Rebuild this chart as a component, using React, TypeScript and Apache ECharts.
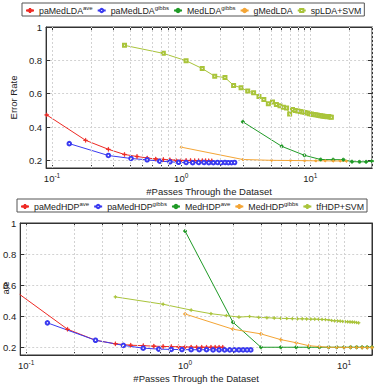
import React, { useEffect, useRef } from 'react';
import * as echarts from 'echarts';

// ---- Upper panel: LDA-based models ----
const ldaAveX = [0.091, 0.182, 0.273, 0.364, 0.455, 0.545, 0.636, 0.727, 0.818, 0.909, 1.0, 1.091, 1.182, 1.273, 1.364, 1.455, 1.545, 1.636, 1.727];
const ldaAveY = [0.473, 0.321, 0.267, 0.236, 0.224, 0.215, 0.209, 0.206, 0.204, 0.202, 0.201, 0.2, 0.2, 0.199, 0.199, 0.199, 0.199, 0.198, 0.198];
const ldaGibbsX = [0.136, 0.273, 0.409, 0.545, 0.682, 0.818, 0.955, 1.091, 1.227, 1.364, 1.5, 1.636, 1.773, 1.909, 2.045, 2.182, 2.318, 2.455, 2.591];
const ldaGibbsY = [0.301, 0.23, 0.212, 0.204, 0.196, 0.192, 0.189, 0.188, 0.187, 0.188, 0.188, 0.187, 0.187, 0.188, 0.187, 0.188, 0.187, 0.187, 0.188];
const medLdaX = [3, 6, 9, 12, 15, 18, 21, 24, 27, 30];
const medLdaY = [0.432, 0.285, 0.231, 0.206, 0.205, 0.205, 0.193, 0.192, 0.192, 0.196];
const gMedLdaX = [1, 3, 5, 7, 9, 11, 13, 15, 17, 19];
const gMedLdaY = [0.28, 0.206, 0.201, 0.2, 0.199, 0.198, 0.198, 0.197, 0.197, 0.196];
const spLdaX = [0.364, 0.727, 1.091, 1.455, 1.818, 2.182, 2.545, 2.909, 3.273, 3.636, 4.0, 4.364, 4.727, 5.091, 5.455, 5.818, 6.182, 6.545, 6.909, 7.273, 7.636, 8.0, 8.364, 8.727, 9.091, 9.455, 9.818, 10.182, 10.545, 10.909, 11.273, 11.636, 12.0, 12.364, 12.727, 13.091, 13.455, 13.818, 14.182, 14.545];
const spLdaY = [0.89, 0.842, 0.798, 0.751, 0.705, 0.697, 0.65, 0.636, 0.616, 0.606, 0.584, 0.566, 0.54, 0.55, 0.536, 0.528, 0.519, 0.515, 0.478, 0.505, 0.5, 0.497, 0.494, 0.49, 0.488, 0.485, 0.48, 0.478, 0.476, 0.474, 0.473, 0.47, 0.468, 0.466, 0.465, 0.464, 0.462, 0.463, 0.46, 0.459];

// ---- Lower panel: HDP-based models ----
const hdpAveX = [0.091, 0.182, 0.273, 0.364, 0.455, 0.545, 0.636, 0.727, 0.818, 0.909, 1.0, 1.091, 1.182, 1.273, 1.364, 1.455, 1.545, 1.636, 1.727];
const hdpAveY = [0.54, 0.316, 0.245, 0.222, 0.213, 0.21, 0.207, 0.205, 0.204, 0.203, 0.202, 0.201, 0.2, 0.2, 0.2, 0.2, 0.2, 0.2, 0.2];
const hdpGibbsX = [0.136, 0.273, 0.409, 0.545, 0.682, 0.818, 0.955, 1.091, 1.227, 1.364, 1.5, 1.636, 1.773, 1.909, 2.045, 2.182, 2.318, 2.455, 2.591];
const hdpGibbsY = [0.357, 0.245, 0.212, 0.194, 0.188, 0.186, 0.185, 0.184, 0.184, 0.184, 0.183, 0.183, 0.183, 0.183, 0.183, 0.183, 0.183, 0.183, 0.183];
const medHdpAveX = [1, 2, 3, 4, 5, 6, 7, 8, 9, 10, 11, 12, 13, 14, 15];
const medHdpAveY = [0.948, 0.361, 0.2, 0.2, 0.2, 0.2, 0.2, 0.2, 0.2, 0.2, 0.2, 0.2, 0.2, 0.2, 0.2];
const medHdpGibbsX = [1, 2, 3, 4, 5, 6, 7, 8, 9, 10, 11, 12, 13, 14, 15];
const medHdpGibbsY = [0.414, 0.316, 0.286, 0.249, 0.229, 0.21, 0.204, 0.2, 0.2, 0.199, 0.199, 0.199, 0.198, 0.198, 0.198];
const tfHdpX = [0.364, 0.727, 1.091, 1.455, 1.818, 2.182, 2.545, 2.909, 3.273, 3.636, 4.0, 4.364, 4.727, 5.091, 5.455, 5.818, 6.182, 6.545, 6.909, 7.273, 7.636, 8.0, 8.364, 8.727, 9.091, 9.455, 9.818, 10.182, 10.545, 10.909, 11.273, 11.636, 12.0, 12.364];
const tfHdpY = [0.524, 0.477, 0.439, 0.416, 0.404, 0.394, 0.398, 0.392, 0.39, 0.388, 0.386, 0.385, 0.384, 0.383, 0.383, 0.382, 0.381, 0.381, 0.38, 0.379, 0.378, 0.376, 0.372, 0.37, 0.369, 0.368, 0.366, 0.365, 0.364, 0.363, 0.362, 0.361, 0.359, 0.357];

// Vertical grid / tick positions on the log axes (1..9 x 10^k)
const topGridX = [0.1, 0.2, 0.3, 0.4, 0.5, 0.6, 0.7, 0.8, 0.9, 1, 2, 3, 4, 5, 6, 7, 8, 9, 10, 20, 30];
const bottomGridX = [0.1, 0.2, 0.3, 0.4, 0.5, 0.6, 0.7, 0.8, 0.9, 1, 2, 3, 4, 5, 6, 7, 8, 9, 10];

const topNames = ['paMedLDA^ave', 'paMedLDA^gibbs', 'MedLDA^gibbs', 'gMedLDA', 'spLDA+SVM'];
const bottomNames = ['paMedHDP^ave', 'paMedHDP^gibbs', 'MedHDP^ave', 'MedHDP^gibbs', 'tfHDP+SVM'];

const RED = '#ee2a24';
const BLUE = '#3a3af0';
const GREEN = '#1f9a26';
const ORANGE = '#f4a535';
const OLIVE = '#a9c43a';
const FONT = 'Liberation Sans';
const PLUS = 'path://M4.5,0H5.5V4.5H10V5.5H5.5V10H4.5V5.5H0V4.5H4.5Z';

const zip = (xs: number[], ys: number[]) => xs.map((x, i) => [x, ys[i]]);

const supFormatter = (name: string) => {
  const [base, sup] = name.split('^');
  return sup ? `{n|${base}}{s|${sup}}` : `{n|${base}}`;
};

const richText = {
  n: { fontFamily: FONT, fontSize: 9.5, color: '#222', lineHeight: 12 },
  s: { fontFamily: FONT, fontSize: 6.5, color: '#222', lineHeight: 7, verticalAlign: 'top' },
};

const legendRich = {
  n: { fontFamily: FONT, fontSize: 8.8, color: '#222', lineHeight: 11 },
  s: { fontFamily: FONT, fontSize: 6, color: '#222', lineHeight: 6, verticalAlign: 'top' },
};

const powLabel = (v: number) => {
  const e = Math.round(Math.log10(v));
  if (Math.abs(Math.log10(v) - e) > 1e-6) return '';
  return `{n|10}{s|${e}}`;
};

const AXIS_LINE = { show: true, onZero: false, lineStyle: { color: '#333', width: 1 } };

function xAxis(gridIndex: number, min: number, max: number, ticks: number[]) {
  return {
    type: 'log',
    logBase: 10,
    gridIndex,
    min,
    max,
    name: '#Passes Through the Dataset',
    nameLocation: 'middle',
    nameGap: 18,
    nameTextStyle: { fontFamily: FONT, fontSize: 9.5, color: '#222' },
    axisLine: AXIS_LINE,
    axisTick: { show: true, inside: true, length: 3, customValues: ticks, lineStyle: { color: '#333' } },
    axisLabel: { formatter: powLabel, margin: 4, rich: richText },
    splitLine: { show: false },
  };
}

// Mirrored axis on the top edge: ticks only
function xAxisTop(gridIndex: number, min: number, max: number, ticks: number[]) {
  return {
    type: 'log',
    logBase: 10,
    gridIndex,
    min,
    max,
    position: 'top',
    axisLine: AXIS_LINE,
    axisTick: { show: true, inside: true, length: 3, customValues: ticks, lineStyle: { color: '#333' } },
    axisLabel: { show: false },
    splitLine: { show: false },
  };
}

function yAxis(gridIndex: number, min: number, name: string) {
  return {
    type: 'value',
    gridIndex,
    min,
    max: 1,
    splitNumber: 4,
    name,
    nameLocation: 'middle',
    nameGap: 17,
    nameTextStyle: { fontFamily: FONT, fontSize: 9.5, color: '#222' },
    axisLine: AXIS_LINE,
    axisTick: { show: true, inside: true, length: 4, lineStyle: { color: '#333' } },
    axisLabel: { showMinLabel: false, showMaxLabel: true, margin: 4, fontFamily: FONT, fontSize: 9.5, color: '#222' },
    splitLine: { show: true, lineStyle: { color: '#d2d2d2', type: [2, 2], width: 1 } },
  };
}

// Mirrored axis on the right edge: ticks only
function yAxisRight(gridIndex: number, min: number) {
  return {
    type: 'value',
    gridIndex,
    min,
    max: 1,
    splitNumber: 4,
    position: 'right',
    axisLine: AXIS_LINE,
    axisTick: { show: true, inside: true, length: 4, lineStyle: { color: '#333' } },
    axisLabel: { show: false },
    splitLine: { show: false },
  };
}

function gridSeries(idx: number, xs: number[]) {
  return {
    type: 'line',
    xAxisIndex: idx,
    yAxisIndex: idx,
    data: [],
    z: 1,
    silent: true,
    markLine: {
      silent: true,
      symbol: 'none',
      label: { show: false },
      lineStyle: { color: '#d2d2d2', type: [2, 2], width: 1 },
      data: xs.map((v) => ({ xAxis: v })),
    },
  };
}

function lineSeries(idx: number, name: string, xs: number[], ys: number[], color: string, symbol: string, size: number) {
  return {
    type: 'line',
    name,
    xAxisIndex: idx,
    yAxisIndex: idx,
    data: zip(xs, ys),
    color,
    symbol,
    symbolSize: size,
    showAllSymbol: true,
    z: 3,
    lineStyle: { color, width: 1 },
    itemStyle: { color, borderColor: color, borderWidth: 0.8 },
  };
}

function legend(names: string[], left: number, top: number, gap: number) {
  return {
    data: names,
    left,
    top,
    width: 400,
    orient: 'horizontal',
    selectedMode: false,
    itemGap: gap,
    itemWidth: 8,
    itemHeight: 4,
    padding: [2, 3, 1, 3],
    borderColor: '#555',
    borderWidth: 1,
    borderRadius: 0,
    backgroundColor: '#fff',
    formatter: supFormatter,
    textStyle: { fontFamily: FONT, fontSize: 8.8, color: '#222', rich: legendRich },
  };
}

export default function App() {
  const ref = useRef<HTMLDivElement>(null);

  useEffect(() => {
    if (!ref.current) return;
    const chart = echarts.init(ref.current, undefined, { renderer: 'svg' });
    chart.setOption({
      animation: false,
      backgroundColor: '#fff',
      textStyle: { fontFamily: FONT },
      grid: [
        { left: 24, top: 27, width: 349, height: 141, show: true, borderColor: '#333', borderWidth: 1, backgroundColor: '#fff' },
        { left: 19, top: 223, width: 354, height: 139, show: true, borderColor: '#333', borderWidth: 1, backgroundColor: '#fff' },
      ],
      legend: [legend(topNames, 22, 3, 4), legend(bottomNames, 17, 199, 4)],
      xAxis: [
        xAxis(0, 0.09, 30, topGridX),
        xAxis(1, 0.0917, 15, bottomGridX),
        xAxisTop(0, 0.09, 30, topGridX),
        xAxisTop(1, 0.0917, 15, bottomGridX),
      ],
      yAxis: [yAxis(0, 0.155, 'Error Rate'), yAxis(1, 0.15, ''), yAxisRight(0, 0.155), yAxisRight(1, 0.15)],
      graphic: [
        {
          type: 'text',
          x: 5,
          y: 288,
          rotation: Math.PI / 2,
          style: { text: 'ate', fontFamily: FONT, fontSize: 9.5, fill: '#222', align: 'center', verticalAlign: 'middle' },
        },
      ],
      series: [
        gridSeries(0, topGridX),
        gridSeries(1, bottomGridX),
        lineSeries(0, topNames[0], ldaAveX, ldaAveY, RED, PLUS, 4),
        lineSeries(0, topNames[1], ldaGibbsX, ldaGibbsY, BLUE, 'emptyCircle', 3.5),
        lineSeries(0, topNames[2], medLdaX, medLdaY, GREEN, 'circle', 3),
        lineSeries(0, topNames[3], gMedLdaX, gMedLdaY, ORANGE, 'circle', 2),
        lineSeries(0, topNames[4], spLdaX, spLdaY, OLIVE, 'emptyRect', 3),
        lineSeries(1, bottomNames[0], hdpAveX, hdpAveY, RED, PLUS, 4),
        lineSeries(1, bottomNames[1], hdpGibbsX, hdpGibbsY, BLUE, 'emptyCircle', 3.5),
        lineSeries(1, bottomNames[2], medHdpAveX, medHdpAveY, GREEN, 'circle', 3),
        lineSeries(1, bottomNames[3], medHdpGibbsX, medHdpGibbsY, ORANGE, PLUS, 3.5),
        lineSeries(1, bottomNames[4], tfHdpX, tfHdpY, OLIVE, PLUS, 3),
      ],
    });
    return () => chart.dispose();
  }, []);

  return <div ref={ref} style={{ position: 'fixed', left: 0, top: 0, width: 375, height: 384 }} />;
}
